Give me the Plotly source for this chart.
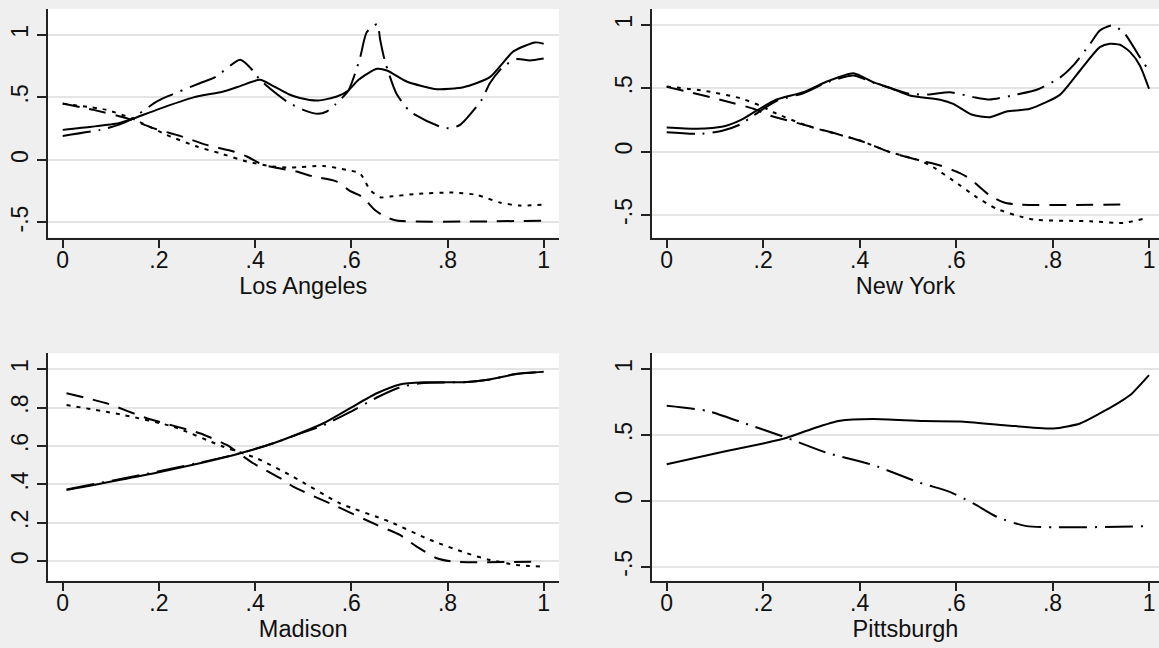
import plotly.graph_objects as go

# ---------------- data ----------------
x_ticks = [0, 0.2, 0.4, 0.6, 0.8, 1]
x_tick_text = ["0", ".2", ".4", ".6", ".8", "1"]
y_ticks_wide = [-0.5, 0, 0.5, 1]
y_text_wide = ["-.5", "0", ".5", "1"]
y_ticks_mad = [0, 0.2, 0.4, 0.6, 0.8, 1]
y_text_mad = ["0", ".2", ".4", ".6", ".8", "1"]
panel_titles = ["Los Angeles", "New York", "Madison", "Pittsburgh"]

# Los Angeles
la_solid_x = [0.00, 0.06, 0.116, 0.143, 0.195, 0.272, 0.334, 0.369, 0.41, 0.438, 0.47, 0.493, 0.531,
              0.57, 0.594, 0.615, 0.653, 0.674, 0.715, 0.778, 0.833, 0.888, 0.937, 0.982, 1.0]
la_solid_y = [0.24, 0.265, 0.293, 0.325, 0.40, 0.50, 0.547, 0.59, 0.64, 0.59, 0.525, 0.495, 0.475,
              0.507, 0.555, 0.64, 0.728, 0.715, 0.627, 0.565, 0.581, 0.661, 0.867, 0.939, 0.928]
la_dd_x = [0.00, 0.078, 0.116, 0.14, 0.195, 0.213, 0.285, 0.317, 0.369, 0.396, 0.41, 0.466, 0.50,
           0.531, 0.549, 0.566, 0.594, 0.618, 0.632, 0.654, 0.66, 0.67, 0.694, 0.722, 0.784, 0.807,
           0.826, 0.871, 0.888, 0.916, 0.944, 0.971, 1.0]
la_dd_y = [0.192, 0.24, 0.28, 0.32, 0.466, 0.50, 0.613, 0.661, 0.80, 0.712, 0.64, 0.467, 0.40,
           0.368, 0.387, 0.44, 0.555, 0.813, 1.02, 1.085, 0.96, 0.787, 0.528, 0.387, 0.267, 0.253,
           0.28, 0.48, 0.613, 0.747, 0.805, 0.795, 0.81]
la_sd_x = [0.00, 0.091, 0.143, 0.216, 0.279, 0.327, 0.383, 0.438, 0.473, 0.542, 0.59, 0.618, 0.639,
           0.66, 0.68, 0.736, 0.812, 0.861, 0.909, 0.951, 1.0]
la_sd_y = [0.448, 0.40, 0.333, 0.20, 0.107, 0.053, -0.013, -0.053, -0.061, -0.048, -0.08, -0.107,
           -0.24, -0.299, -0.293, -0.272, -0.261, -0.28, -0.341, -0.365, -0.357]
la_ld_x = [0.00, 0.064, 0.133, 0.195, 0.244, 0.299, 0.355, 0.383, 0.417, 0.486, 0.521, 0.57, 0.597,
           0.622, 0.649, 0.67, 0.694, 1.0]
la_ld_y = [0.45, 0.40, 0.333, 0.245, 0.192, 0.12, 0.067, 0.027, -0.04, -0.093, -0.133, -0.173,
           -0.248, -0.293, -0.40, -0.453, -0.485, -0.485]

# New York
ny_solid_x = [0.00, 0.062, 0.117, 0.152, 0.187, 0.228, 0.283, 0.332, 0.387, 0.428, 0.463, 0.504,
              0.567, 0.594, 0.632, 0.67, 0.705, 0.753, 0.815, 0.857, 0.898, 0.919, 0.94, 0.961,
              0.981, 1.0]
ny_solid_y = [0.189, 0.179, 0.197, 0.245, 0.324, 0.41, 0.468, 0.552, 0.618, 0.547, 0.503, 0.442,
              0.408, 0.376, 0.292, 0.271, 0.316, 0.337, 0.447, 0.639, 0.823, 0.85, 0.842, 0.784,
              0.679, 0.495]
ny_dd_x = [0.00, 0.073, 0.117, 0.152, 0.18, 0.228, 0.283, 0.332, 0.387, 0.428, 0.463, 0.504, 0.542,
           0.587, 0.636, 0.67, 0.726, 0.767, 0.815, 0.843, 0.878, 0.898, 0.923, 0.947, 0.981, 0.995]
ny_dd_y = [0.153, 0.14, 0.166, 0.213, 0.284, 0.40, 0.46, 0.545, 0.60, 0.543, 0.50, 0.455, 0.45,
           0.468, 0.429, 0.41, 0.45, 0.487, 0.582, 0.679, 0.85, 0.955, 0.994, 0.942, 0.744, 0.665]
ny_sd_x = [0.00, 0.083, 0.152, 0.193, 0.221, 0.29, 0.40, 0.463, 0.525, 0.553, 0.594, 0.643, 0.684,
           0.739, 0.767, 0.878, 0.947, 0.988]
ny_sd_y = [0.513, 0.476, 0.421, 0.363, 0.31, 0.205, 0.087, -0.005, -0.071, -0.124, -0.229, -0.361,
           -0.452, -0.519, -0.539, -0.55, -0.563, -0.531]
ny_ld_x = [0.00, 0.048, 0.117, 0.18, 0.214, 0.29, 0.40, 0.463, 0.525, 0.567, 0.608, 0.629, 0.67,
           0.698, 0.726, 0.95]
ny_ld_y = [0.51, 0.468, 0.403, 0.337, 0.284, 0.205, 0.087, -0.005, -0.071, -0.11, -0.171, -0.216,
           -0.347, -0.40, -0.418, -0.418]

# Madison
md_solid_x = [0.008, 0.195, 0.299, 0.369, 0.438, 0.493, 0.542, 0.597, 0.653, 0.701, 0.75, 0.833,
              0.888, 0.944, 1.0]
md_solid_y = [0.371, 0.461, 0.518, 0.562, 0.614, 0.666, 0.718, 0.796, 0.874, 0.92, 0.931, 0.932,
              0.946, 0.974, 0.986]
md_dd_x = [0.008, 0.195, 0.299, 0.369, 0.438, 0.493, 0.542, 0.597, 0.653, 0.701, 0.75, 0.833,
           0.888, 0.944, 1.0]
md_dd_y = [0.374, 0.465, 0.521, 0.562, 0.614, 0.664, 0.708, 0.776, 0.852, 0.905, 0.928, 0.932,
           0.946, 0.976, 0.986]
md_sd_x = [0.008, 0.126, 0.23, 0.334, 0.403, 0.479, 0.576, 0.68, 0.764, 0.84, 0.888, 0.944, 0.996]
md_sd_y = [0.813, 0.761, 0.70, 0.596, 0.536, 0.44, 0.302, 0.206, 0.111, 0.042, 0.007, -0.019, -0.028]
md_ld_x = [0.008, 0.091, 0.175, 0.285, 0.341, 0.396, 0.459, 0.479, 0.563, 0.653, 0.701, 0.736,
           0.778, 0.812, 0.985]
md_ld_y = [0.874, 0.822, 0.744, 0.666, 0.605, 0.51, 0.423, 0.388, 0.293, 0.189, 0.137, 0.076,
           0.016, -0.002, -0.002]

# Pittsburgh
pt_solid_x = [0.00, 0.117, 0.20, 0.249, 0.304, 0.359, 0.428, 0.532, 0.608, 0.705, 0.802, 0.857,
              0.898, 0.94, 0.961, 1.0]
pt_solid_y = [0.278, 0.372, 0.435, 0.478, 0.549, 0.607, 0.62, 0.605, 0.602, 0.572, 0.549, 0.587,
              0.663, 0.751, 0.802, 0.954]
pt_dd_x = [0.00, 0.083, 0.152, 0.249, 0.332, 0.428, 0.525, 0.587, 0.636, 0.684, 0.746, 1.0]
pt_dd_y = [0.721, 0.683, 0.60, 0.478, 0.364, 0.271, 0.137, 0.068, -0.02, -0.121, -0.192, -0.192]

# ---------------- styling ----------------
FONT = "Liberation Sans, Arial, Helvetica, sans-serif"
BG = "#efefef"
GRID = "#e4e4e4"
AX = "#222222"
DASH_SOLID = "solid"
DASH_LONGDOT = "28px,8px,2px,8px"
DASH_SHORT = "4px,6px"
DASH_LONG = "17px,10px"

fig = go.Figure()

panels = [
    ([(la_solid_x, la_solid_y, DASH_SOLID), (la_dd_x, la_dd_y, DASH_LONGDOT),
      (la_sd_x, la_sd_y, DASH_SHORT), (la_ld_x, la_ld_y, DASH_LONG)], "x", "y"),
    ([(ny_solid_x, ny_solid_y, DASH_SOLID), (ny_dd_x, ny_dd_y, DASH_LONGDOT),
      (ny_sd_x, ny_sd_y, DASH_SHORT), (ny_ld_x, ny_ld_y, DASH_LONG)], "x2", "y2"),
    ([(md_solid_x, md_solid_y, DASH_SOLID), (md_dd_x, md_dd_y, DASH_LONGDOT),
      (md_sd_x, md_sd_y, DASH_SHORT), (md_ld_x, md_ld_y, DASH_LONG)], "x3", "y3"),
    ([(pt_solid_x, pt_solid_y, DASH_SOLID), (pt_dd_x, pt_dd_y, DASH_LONGDOT)], "x4", "y4"),
]

for series, xa, ya in panels:
    for xs, ys, dash in series:
        fig.add_trace(go.Scatter(
            x=xs, y=ys, xaxis=xa, yaxis=ya, mode="lines",
            line=dict(color="black", width=2, dash=dash, shape="spline", smoothing=0.6),
            showlegend=False, hoverinfo="skip"))

x_dom_left = [47.5 / 1159, 559 / 1159]
x_dom_right = [652 / 1159, 1.0]
y_dom_top = [1 - 237.5 / 648, 1 - 9 / 648]
y_dom_bot = [1 - 580.7 / 648, 1 - 353.3 / 648]

x_range_left = [-0.0316, 1.0318]
x_range_right = [-0.0305, 1.0207]
y_ranges = [[-0.62, 1.206], [-0.678, 1.124], [-0.101, 1.082], [-0.606, 1.119]]


def xaxis_cfg(domain, rng, anchor, title):
    return dict(domain=domain, range=rng, anchor=anchor, tickvals=x_ticks, ticktext=x_tick_text,
                ticks="outside", ticklen=9, tickwidth=1.5, tickcolor=AX,
                ticklabeloverflow="allow", ticklabelstandoff=-8,
                showline=True, linecolor=AX, linewidth=1.5, showgrid=False, zeroline=False,
                tickfont=dict(family=FONT, size=23, color="#111111"),
                title=dict(text=title, font=dict(family=FONT, size=23.5, color="#111111"), standoff=2),
                fixedrange=True)


def yaxis_cfg(domain, rng, anchor, vals, text):
    return dict(domain=domain, range=rng, anchor=anchor, tickvals=vals, ticktext=text,
                ticks="outside", ticklen=9, tickwidth=1.5, tickcolor=AX, tickangle=-90,
                ticklabeloverflow="allow",
                showline=True, linecolor=AX, linewidth=1.5, showgrid=True, gridcolor=GRID,
                gridwidth=1.5, zeroline=False,
                tickfont=dict(family=FONT, size=23, color="#111111"), fixedrange=True)


fig.update_layout(
    width=1159, height=648,
    margin=dict(l=0, r=0, t=0, b=0),
    paper_bgcolor=BG, plot_bgcolor="white",
    font=dict(family=FONT, color="#111111"),
    xaxis=xaxis_cfg(x_dom_left, x_range_left, "y", panel_titles[0]),
    xaxis2=xaxis_cfg(x_dom_right, x_range_right, "y2", panel_titles[1]),
    xaxis3=xaxis_cfg(x_dom_left, x_range_left, "y3", panel_titles[2]),
    xaxis4=xaxis_cfg(x_dom_right, x_range_right, "y4", panel_titles[3]),
    yaxis=yaxis_cfg(y_dom_top, y_ranges[0], "x", y_ticks_wide, y_text_wide),
    yaxis2=yaxis_cfg(y_dom_top, y_ranges[1], "x2", y_ticks_wide, y_text_wide),
    yaxis3=yaxis_cfg(y_dom_bot, y_ranges[2], "x3", y_ticks_mad, y_text_mad),
    yaxis4=yaxis_cfg(y_dom_bot, y_ranges[3], "x4", y_ticks_wide, y_text_wide),
)

fig.write_html(
    "out.html",
    config={"displayModeBar": False},
    post_script="document.body.style.margin='0';document.body.style.padding='0';"
                "document.body.style.background='#efefef';",
)
